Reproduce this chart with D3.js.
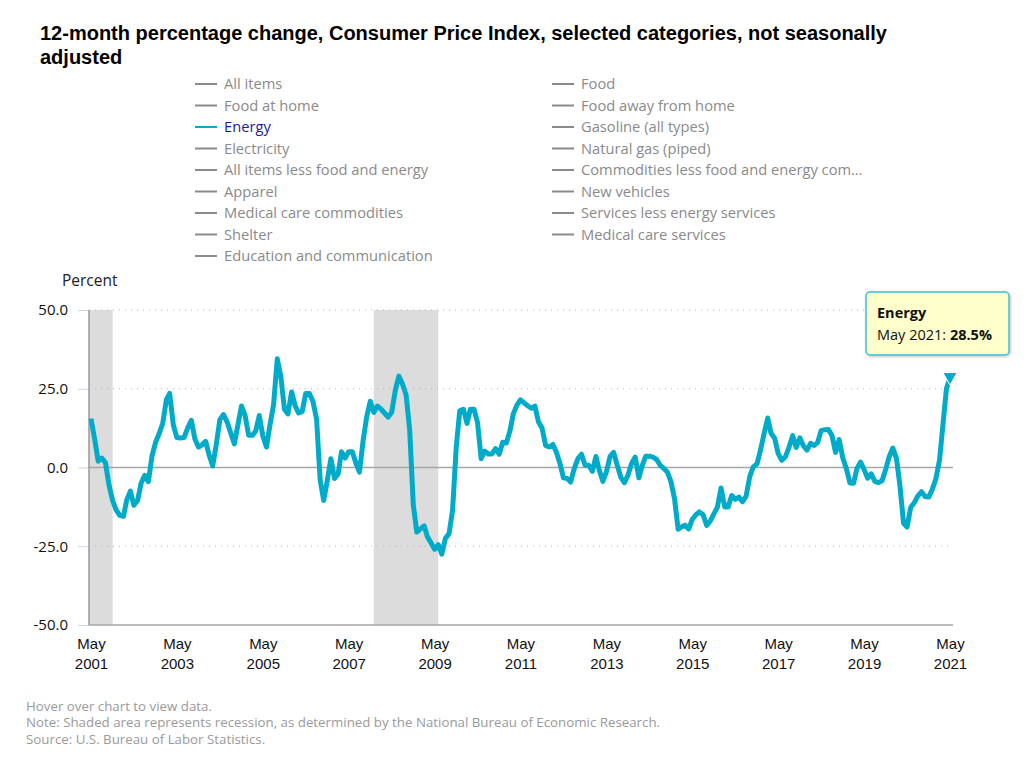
<!DOCTYPE html>
<html>
<head>
<meta charset="utf-8">
<script src="https://cdn.jsdelivr.net/npm/d3@7"></script>
<style>
  body { margin: 0; background: #fff; }
  svg { display: block; font-family: "Open Sans", sans-serif; }
</style>
</head>
<body>
<div id="chart-container"></div>
<script>
// Energy, 12-month % change, monthly from May 2001 to May 2021
const startYear = 2001, startMonth = 4; // May
const energyChange = [
  15.5, 9, 2.0, 3.0, 1.5, -5.5, -10.5, -13.5, -15.2, -15.5, -10.3, -7.5,
  -12, -10.5, -5, -2.5, -4.5, 3.5, 8, 10.7, 14, 21.5, 23.5, 13.5,
  9.5, 9.4, 9.5, 12.5, 15, 9.1, 6.5, 7.2, 8.3, 3.8, 0.5, 7.5,
  15.2, 16.8, 14.5, 11, 7.5, 13.5, 19.5, 16.6, 10.2, 10.2, 11.5, 16.5,
  10, 6.5, 13.5, 20, 34.5, 29, 18.5, 17, 24, 19.5, 17.3, 17.8,
  23.5, 23.5, 21, 15.5, -4, -10.5, -4, 2.8, -3.5, -2, 5, 3,
  5, 5, 1.5, -1.5, 8.5, 16, 21, 17.5, 19.5, 18.5, 17.3, 16,
  17.5, 24.5, 29, 26.5, 23, 12, -12, -20.5, -19.5, -18.5, -22, -24,
  -26, -24.5, -27.5, -22.5, -21, -13.5, 6.5, 18, 18.5, 14, 18.5, 18.5,
  14.3, 2.8, 5.2, 4.3, 4.3, 6, 4.2, 8, 7.8, 11.7, 17, 19.8,
  21.5, 20.5, 19.6, 18.8, 19.5, 14.5, 12.5, 7, 6.5, 7.3, 4.9, 1.3,
  -3.3, -3.5, -4.6, -0.3, 2.8, 4.2, 0.7, 0.7, -1.2, 3.5, -0.8, -4.4,
  -1.4, 3.5, 4.8, 0.7, -3.1, -4.8, -2.4, 1.3, 3.3, -3.3, 0.5, 3.6,
  3.6, 3.3, 2.6, 0.7, -0.3, -1.4, -4.5, -9.8, -19.6, -18.8, -18.3, -19.5,
  -16.5, -15, -14.1, -15, -18.4, -17, -14.7, -12.6, -6.5, -12.5, -12.5, -8.9,
  -10.1, -9.4, -10.9, -9.1, -2.9, 0.2, 1.1, 5.4, 10.8, 15.7, 10.9, 9.3,
  4.4, 2.3, 3.4, 6.4, 10.1, 6.4, 9.4, 6.9, 5.5, 7.7, 7.0, 7.9,
  11.7, 12.0, 12.1, 10.2, 4.8, 8.9, 3.1, -0.3, -4.9, -5.0, -0.4, 1.7,
  -0.6, -3.4, -2.0, -4.4, -4.8, -4.2, -0.6, 3.4, 6.2, 2.8, -5.7, -17.7,
  -18.9, -12.6, -11.2, -9.0, -7.7, -9.2, -9.4, -7.0, -3.6, 2.4, 13.2, 25.1,
  28.5
];

const yTicks = [-50, -25, 0, 25, 50];
const xTickYears = [2001, 2003, 2005, 2007, 2009, 2011, 2013, 2015, 2017, 2019, 2021];

// recessions as [start year, month index, end year, month index]
const recessions = [[2001, 2, 2001, 10], [2007, 11, 2009, 5]];

const legendLeft = ["All items", "Food at home", "Energy", "Electricity",
  "All items less food and energy", "Apparel", "Medical care commodities",
  "Shelter", "Education and communication"];
const legendRight = ["Food", "Food away from home", "Gasoline (all types)",
  "Natural gas (piped)", "Commodities less food and energy com\u2026",
  "New vehicles", "Services less energy services", "Medical care services"];

const title1 = "12-month percentage change, Consumer Price Index, selected categories, not seasonally";
const title2 = "adjusted";
const footer = [
  "Hover over chart to view data.",
  "Note: Shaded area represents recession, as determined by the National Bureau of Economic Research.",
  "Source: U.S. Bureau of Labor Statistics."
];

const data = energyChange.map((v, i) => ({ date: new Date(startYear, startMonth + i, 1), value: v }));

const width = 1024, height = 764;
const plot = { left: 89, right: 953, top: 310, bottom: 625 };
const lineColor = "#00abc9";
const fmt = d3.formatLocale({ decimal: ".", thousands: ",", grouping: [3], currency: ["$", ""], minus: "-" }).format(".1f");

const svg = d3.select("#chart-container").append("svg")
  .attr("width", width)
  .attr("height", height)
  .attr("viewBox", `0 0 ${width} ${height}`);

const x = d3.scaleTime()
  .domain([data[0].date, data[data.length - 1].date])
  .range([91, 950]);

const y = d3.scaleLinear()
  .domain([-50, 50])
  .range([plot.bottom, plot.top]);

// title
svg.append("g")
  .attr("font-family", "'Liberation Sans', Arial, sans-serif")
  .attr("font-weight", "bold")
  .attr("font-size", 20)
  .attr("fill", "#000")
  .selectAll("text")
  .data([title1, title2])
  .join("text")
  .attr("x", 40)
  .attr("y", (d, i) => 40 + i * 24)
  .text(d => d);

// legend
function legendColumn(items, x0) {
  const g = svg.append("g").attr("transform", `translate(${x0},84)`);
  const row = g.selectAll("g").data(items).join("g")
    .attr("transform", (d, i) => `translate(0,${i * 21.5})`);
  row.append("line")
    .attr("x1", 0).attr("x2", 22)
    .attr("stroke", d => d === "Energy" ? lineColor : "#8a8a8a")
    .attr("stroke-width", 2);
  row.append("text")
    .attr("x", 29)
    .attr("dy", "0.35em")
    .attr("font-size", 14.7)
    .attr("fill", d => d === "Energy" ? "#1d1d8f" : "#8a8a8a")
    .text(d => d);
}
legendColumn(legendLeft, 195);
legendColumn(legendRight, 552);

svg.append("text")
  .attr("x", 62).attr("y", 281)
  .attr("dy", "0.35em")
  .attr("font-size", 15.5)
  .attr("fill", "#222")
  .text("Percent");

// recession bands
svg.append("g")
  .selectAll("rect")
  .data(recessions)
  .join("rect")
  .attr("x", d => Math.max(plot.left, x(new Date(d[0], d[1], 1))))
  .attr("width", d => x(new Date(d[2], d[3], 1)) - Math.max(plot.left, x(new Date(d[0], d[1], 1))))
  .attr("y", plot.top)
  .attr("height", plot.bottom - plot.top)
  .attr("fill", "#dcdcdc");

// grid lines
svg.append("g")
  .selectAll("line")
  .data(yTicks)
  .join("line")
  .attr("x1", plot.left).attr("x2", plot.right)
  .attr("y1", d => y(d)).attr("y2", d => y(d))
  .attr("stroke", d => (d === 0 || d === -50) ? "#a6a6a6" : "#b3b3b3")
  .attr("stroke-width", d => (d === 0 || d === -50) ? 1.5 : 1)
  .attr("stroke-dasharray", d => (d === 0 || d === -50) ? null : "1,5");

// y axis
svg.append("g")
  .attr("transform", `translate(${plot.left},0)`)
  .call(d3.axisLeft(y).tickValues(yTicks).tickFormat(fmt).tickSize(11).tickPadding(10))
  .call(g => g.select(".domain").remove())
  .call(g => g.selectAll(".tick line").attr("stroke", "#ccd6eb"))
  .call(g => g.selectAll(".tick text").attr("font-size", 15).attr("fill", "#111")
    .attr("font-family", "'Open Sans', sans-serif"));

svg.append("line")
  .attr("x1", plot.left).attr("x2", plot.left)
  .attr("y1", plot.top).attr("y2", plot.bottom)
  .attr("stroke", "#999").attr("stroke-width", 1.5);

// x axis
const xAxis = svg.append("g")
  .attr("transform", `translate(0,${plot.bottom})`)
  .call(d3.axisBottom(x).tickValues(xTickYears.map(yr => new Date(yr, 4, 1))).tickSize(0).tickFormat(""))
  .call(g => g.select(".domain").remove());

xAxis.selectAll(".tick").each(function(d) {
  const t = d3.select(this).append("text")
    .attr("fill", "#111")
    .attr("font-size", 15)
    .attr("text-anchor", "middle");
  t.append("tspan").attr("x", 0).attr("y", 24).text("May");
  t.append("tspan").attr("x", 0).attr("y", 44).text(d.getFullYear());
});

// line
svg.append("path")
  .datum(data)
  .attr("fill", "none")
  .attr("stroke", lineColor)
  .attr("stroke-width", 5)
  .attr("stroke-linejoin", "round")
  .attr("d", d3.line().x(d => x(d.date)).y(d => y(d.value)));

// hovered point marker
const last = data[data.length - 1];
svg.append("path")
  .attr("d", d3.symbol(d3.symbolTriangle, 90)())
  .attr("transform", `translate(${x(last.date)},${y(last.value) - 1}) rotate(180)`)
  .attr("fill", lineColor)
  .attr("stroke", "#fff")
  .attr("stroke-width", 1);

// tooltip
const defs = svg.append("defs");
const shadow = defs.append("filter").attr("id", "shadow")
  .attr("x", "-20%").attr("y", "-20%").attr("width", "150%").attr("height", "150%");
shadow.append("feDropShadow")
  .attr("dx", 1).attr("dy", 1).attr("stdDeviation", 1.5)
  .attr("flood-color", "#000").attr("flood-opacity", 0.25);

const tip = svg.append("g").attr("transform", "translate(866,292)");
tip.append("rect")
  .attr("width", 143).attr("height", 63).attr("rx", 4)
  .attr("fill", "#ffffcc")
  .attr("stroke", "#3fc0d8")
  .attr("stroke-width", 1.5)
  .attr("filter", "url(#shadow)");
tip.append("text")
  .attr("x", 11).attr("y", 26)
  .attr("font-size", 14.5).attr("font-weight", "bold").attr("fill", "#111")
  .text("Energy");
const tipLine = tip.append("text")
  .attr("x", 11).attr("y", 48)
  .attr("font-size", 14.5).attr("fill", "#111");
tipLine.append("tspan").text("May 2021: ");
tipLine.append("tspan").attr("font-weight", "bold").text(fmt(last.value) + "%");

// footer
svg.append("g")
  .selectAll("text")
  .data(footer)
  .join("text")
  .attr("x", 26)
  .attr("y", (d, i) => 706 + i * 16.5)
  .attr("dy", "0.35em")
  .attr("font-size", 13.3)
  .attr("fill", "#9a9a9a")
  .text(d => d);
</script>
</body>
</html>
